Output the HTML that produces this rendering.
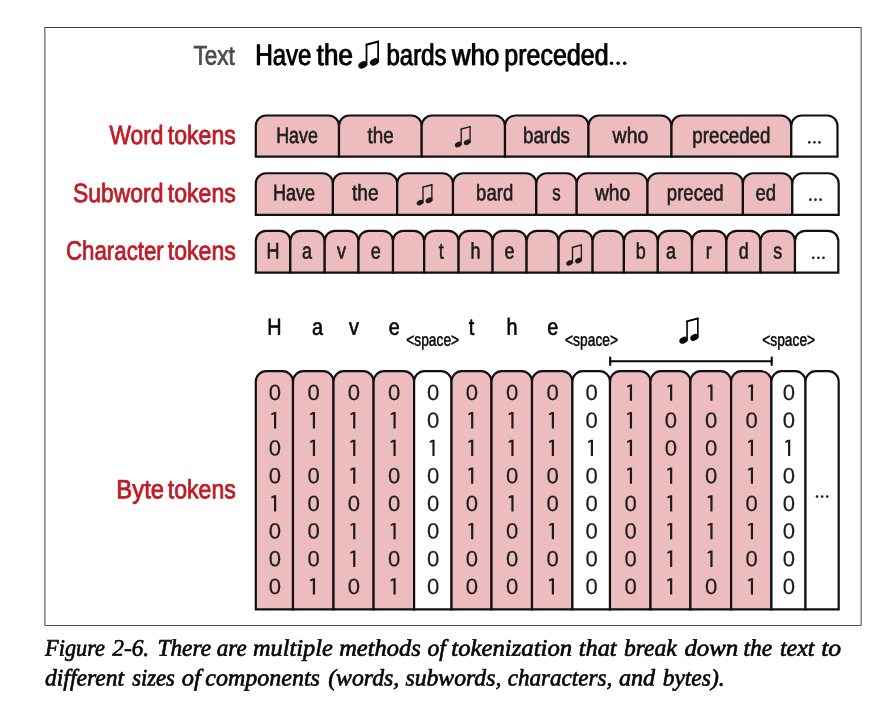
<!DOCTYPE html>
<html><head><meta charset="utf-8"><style>
html,body{margin:0;padding:0;background:#fff;width:886px;height:706px;overflow:hidden}
svg{display:block;will-change:transform;text-rendering:geometricPrecision}
text{white-space:pre}
</style></head><body>
<svg width="886" height="706" viewBox="0 0 886 706">

<rect width="886" height="706" fill="#fff"/>
<rect x="44" y="27" width="818" height="1" fill="#3e3e3e"/>
<rect x="44" y="625" width="818" height="1" fill="#505050"/>
<rect x="44" y="27" width="1" height="599" fill="#8a8a8a"/>
<rect x="45" y="28" width="1" height="597" fill="#b5b5b5"/>
<rect x="861" y="27" width="1" height="599" fill="#8a8a8a"/>
<rect x="860" y="28" width="1" height="597" fill="#b5b5b5"/>
<g fill="#050505"><polygon points="365.70,43.80 379.00,40.30 379.00,42.40 365.70,45.90"/><rect x="365.65" y="44.30" width="1.75" height="21.00"/><rect x="377.25" y="41.30" width="1.75" height="21.00"/><ellipse cx="362.70" cy="64.90" rx="4.70" ry="3.30" transform="rotate(-28 362.70 64.90)"/><ellipse cx="374.40" cy="61.90" rx="4.70" ry="3.30" transform="rotate(-28 374.40 61.90)"/></g>
<circle cx="611.55" cy="63.30" r="1.75" fill="#050505"/><circle cx="618.10" cy="63.30" r="1.75" fill="#050505"/><circle cx="624.65" cy="63.30" r="1.75" fill="#050505"/>
<path d="M255.80,156.65 L255.80,125.80 A10.30,10.30 0 0 1 266.10,115.50 L328.70,115.50 A10.30,10.30 0 0 1 339.00,125.80 L339.00,156.65 Z" fill="#ecbcbf" stroke="#111111" stroke-width="2.20"/>
<path d="M339.00,156.65 L339.00,125.80 A10.30,10.30 0 0 1 349.30,115.50 L411.40,115.50 A10.30,10.30 0 0 1 421.70,125.80 L421.70,156.65 Z" fill="#ecbcbf" stroke="#111111" stroke-width="2.20"/>
<path d="M421.70,156.65 L421.70,125.80 A10.30,10.30 0 0 1 432.00,115.50 L494.70,115.50 A10.30,10.30 0 0 1 505.00,125.80 L505.00,156.65 Z" fill="#ecbcbf" stroke="#111111" stroke-width="2.20"/>
<path d="M505.00,156.65 L505.00,125.80 A10.30,10.30 0 0 1 515.30,115.50 L578.20,115.50 A10.30,10.30 0 0 1 588.50,125.80 L588.50,156.65 Z" fill="#ecbcbf" stroke="#111111" stroke-width="2.20"/>
<path d="M588.50,156.65 L588.50,125.80 A10.30,10.30 0 0 1 598.80,115.50 L661.20,115.50 A10.30,10.30 0 0 1 671.50,125.80 L671.50,156.65 Z" fill="#ecbcbf" stroke="#111111" stroke-width="2.20"/>
<path d="M671.50,156.65 L671.50,125.80 A10.30,10.30 0 0 1 681.80,115.50 L781.00,115.50 A10.30,10.30 0 0 1 791.30,125.80 L791.30,156.65 Z" fill="#ecbcbf" stroke="#111111" stroke-width="2.20"/>
<path d="M791.30,156.65 L791.30,125.80 A10.30,10.30 0 0 1 801.60,115.50 L827.20,115.50 A10.30,10.30 0 0 1 837.50,125.80 L837.50,156.65 Z" fill="#ffffff" stroke="#111111" stroke-width="2.20"/>
<g fill="#1c1c1c"><polygon points="460.56,128.43 470.74,125.75 470.74,127.36 460.56,130.03"/><rect x="460.53" y="128.81" width="1.34" height="16.07"/><rect x="469.40" y="126.52" width="1.34" height="16.07"/><ellipse cx="458.27" cy="144.57" rx="3.60" ry="2.52" transform="rotate(-28 458.27 144.57)"/><ellipse cx="467.22" cy="142.27" rx="3.60" ry="2.52" transform="rotate(-28 467.22 142.27)"/></g>
<circle cx="809.30" cy="142.35" r="1.30" fill="#1c1c1c"/><circle cx="814.40" cy="142.35" r="1.30" fill="#1c1c1c"/><circle cx="819.50" cy="142.35" r="1.30" fill="#1c1c1c"/>
<path d="M255.80,214.80 L255.80,183.55 A10.30,10.30 0 0 1 266.10,173.25 L322.60,173.25 A10.30,10.30 0 0 1 332.90,183.55 L332.90,214.80 Z" fill="#ecbcbf" stroke="#111111" stroke-width="2.20"/>
<path d="M332.90,214.80 L332.90,183.55 A10.30,10.30 0 0 1 343.20,173.25 L386.90,173.25 A10.30,10.30 0 0 1 397.20,183.55 L397.20,214.80 Z" fill="#ecbcbf" stroke="#111111" stroke-width="2.20"/>
<path d="M397.20,214.80 L397.20,183.55 A10.30,10.30 0 0 1 407.50,173.25 L442.70,173.25 A10.30,10.30 0 0 1 453.00,183.55 L453.00,214.80 Z" fill="#ecbcbf" stroke="#111111" stroke-width="2.20"/>
<path d="M453.00,214.80 L453.00,183.55 A10.30,10.30 0 0 1 463.30,173.25 L526.00,173.25 A10.30,10.30 0 0 1 536.30,183.55 L536.30,214.80 Z" fill="#ecbcbf" stroke="#111111" stroke-width="2.20"/>
<path d="M536.30,214.80 L536.30,183.55 A10.30,10.30 0 0 1 546.60,173.25 L566.40,173.25 A10.30,10.30 0 0 1 576.70,183.55 L576.70,214.80 Z" fill="#ecbcbf" stroke="#111111" stroke-width="2.20"/>
<path d="M576.70,214.80 L576.70,183.55 A10.30,10.30 0 0 1 587.00,173.25 L637.20,173.25 A10.30,10.30 0 0 1 647.50,183.55 L647.50,214.80 Z" fill="#ecbcbf" stroke="#111111" stroke-width="2.20"/>
<path d="M647.50,214.80 L647.50,183.55 A10.30,10.30 0 0 1 657.80,173.25 L732.60,173.25 A10.30,10.30 0 0 1 742.90,183.55 L742.90,214.80 Z" fill="#ecbcbf" stroke="#111111" stroke-width="2.20"/>
<path d="M742.90,214.80 L742.90,183.55 A10.30,10.30 0 0 1 753.20,173.25 L782.00,173.25 A10.30,10.30 0 0 1 792.30,183.55 L792.30,214.80 Z" fill="#ecbcbf" stroke="#111111" stroke-width="2.20"/>
<path d="M792.30,214.80 L792.30,183.55 A10.30,10.30 0 0 1 802.60,173.25 L828.40,173.25 A10.30,10.30 0 0 1 838.70,183.55 L838.70,214.80 Z" fill="#ffffff" stroke="#111111" stroke-width="2.20"/>
<g fill="#1c1c1c"><polygon points="422.36,186.48 432.54,183.80 432.54,185.41 422.36,188.08"/><rect x="422.33" y="186.86" width="1.34" height="16.07"/><rect x="431.20" y="184.56" width="1.34" height="16.07"/><ellipse cx="420.07" cy="202.62" rx="3.60" ry="2.52" transform="rotate(-28 420.07 202.62)"/><ellipse cx="429.02" cy="200.32" rx="3.60" ry="2.52" transform="rotate(-28 429.02 200.32)"/></g>
<circle cx="810.40" cy="199.65" r="1.30" fill="#1c1c1c"/><circle cx="815.50" cy="199.65" r="1.30" fill="#1c1c1c"/><circle cx="820.60" cy="199.65" r="1.30" fill="#1c1c1c"/>
<path d="M255.80,272.60 L255.80,241.10 A10.30,10.30 0 0 1 266.10,230.80 L280.00,230.80 A10.30,10.30 0 0 1 290.30,241.10 L290.30,272.60 Z" fill="#ecbcbf" stroke="#111111" stroke-width="2.20"/>
<path d="M290.30,272.60 L290.30,241.10 A10.30,10.30 0 0 1 300.60,230.80 L314.40,230.80 A10.30,10.30 0 0 1 324.70,241.10 L324.70,272.60 Z" fill="#ecbcbf" stroke="#111111" stroke-width="2.20"/>
<path d="M324.70,272.60 L324.70,241.10 A10.30,10.30 0 0 1 335.00,230.80 L348.20,230.80 A10.30,10.30 0 0 1 358.50,241.10 L358.50,272.60 Z" fill="#ecbcbf" stroke="#111111" stroke-width="2.20"/>
<path d="M358.50,272.60 L358.50,241.10 A10.30,10.30 0 0 1 368.80,230.80 L382.70,230.80 A10.30,10.30 0 0 1 393.00,241.10 L393.00,272.60 Z" fill="#ecbcbf" stroke="#111111" stroke-width="2.20"/>
<path d="M393.00,272.60 L393.00,241.10 A10.30,10.30 0 0 1 403.30,230.80 L413.90,230.80 A10.30,10.30 0 0 1 424.20,241.10 L424.20,272.60 Z" fill="#ecbcbf" stroke="#111111" stroke-width="2.20"/>
<path d="M424.20,272.60 L424.20,241.10 A10.30,10.30 0 0 1 434.50,230.80 L448.30,230.80 A10.30,10.30 0 0 1 458.60,241.10 L458.60,272.60 Z" fill="#ecbcbf" stroke="#111111" stroke-width="2.20"/>
<path d="M458.60,272.60 L458.60,241.10 A10.30,10.30 0 0 1 468.90,230.80 L482.30,230.80 A10.30,10.30 0 0 1 492.60,241.10 L492.60,272.60 Z" fill="#ecbcbf" stroke="#111111" stroke-width="2.20"/>
<path d="M492.60,272.60 L492.60,241.10 A10.30,10.30 0 0 1 502.90,230.80 L516.30,230.80 A10.30,10.30 0 0 1 526.60,241.10 L526.60,272.60 Z" fill="#ecbcbf" stroke="#111111" stroke-width="2.20"/>
<path d="M526.60,272.60 L526.60,241.10 A10.30,10.30 0 0 1 536.90,230.80 L548.30,230.80 A10.30,10.30 0 0 1 558.60,241.10 L558.60,272.60 Z" fill="#ecbcbf" stroke="#111111" stroke-width="2.20"/>
<path d="M558.60,272.60 L558.60,241.10 A10.30,10.30 0 0 1 568.90,230.80 L582.30,230.80 A10.30,10.30 0 0 1 592.60,241.10 L592.60,272.60 Z" fill="#ecbcbf" stroke="#111111" stroke-width="2.20"/>
<path d="M592.60,272.60 L592.60,241.10 A10.30,10.30 0 0 1 602.90,230.80 L613.60,230.80 A10.30,10.30 0 0 1 623.90,241.10 L623.90,272.60 Z" fill="#ecbcbf" stroke="#111111" stroke-width="2.20"/>
<path d="M623.90,272.60 L623.90,241.10 A10.30,10.30 0 0 1 634.20,230.80 L647.50,230.80 A10.30,10.30 0 0 1 657.80,241.10 L657.80,272.60 Z" fill="#ecbcbf" stroke="#111111" stroke-width="2.20"/>
<path d="M657.80,272.60 L657.80,241.10 A10.30,10.30 0 0 1 668.10,230.80 L681.70,230.80 A10.30,10.30 0 0 1 692.00,241.10 L692.00,272.60 Z" fill="#ecbcbf" stroke="#111111" stroke-width="2.20"/>
<path d="M692.00,272.60 L692.00,241.10 A10.30,10.30 0 0 1 702.30,230.80 L716.10,230.80 A10.30,10.30 0 0 1 726.40,241.10 L726.40,272.60 Z" fill="#ecbcbf" stroke="#111111" stroke-width="2.20"/>
<path d="M726.40,272.60 L726.40,241.10 A10.30,10.30 0 0 1 736.70,230.80 L750.20,230.80 A10.30,10.30 0 0 1 760.50,241.10 L760.50,272.60 Z" fill="#ecbcbf" stroke="#111111" stroke-width="2.20"/>
<path d="M760.50,272.60 L760.50,241.10 A10.30,10.30 0 0 1 770.80,230.80 L784.70,230.80 A10.30,10.30 0 0 1 795.00,241.10 L795.00,272.60 Z" fill="#ecbcbf" stroke="#111111" stroke-width="2.20"/>
<path d="M795.00,272.60 L795.00,241.10 A10.30,10.30 0 0 1 805.30,230.80 L828.00,230.80 A10.30,10.30 0 0 1 838.30,241.10 L838.30,272.60 Z" fill="#ffffff" stroke="#111111" stroke-width="2.20"/>
<g fill="#1c1c1c"><polygon points="571.86,246.73 582.04,244.05 582.04,245.66 571.86,248.33"/><rect x="571.83" y="247.11" width="1.34" height="16.07"/><rect x="580.70" y="244.81" width="1.34" height="16.07"/><ellipse cx="569.57" cy="262.87" rx="3.60" ry="2.52" transform="rotate(-28 569.57 262.87)"/><ellipse cx="578.52" cy="260.57" rx="3.60" ry="2.52" transform="rotate(-28 578.52 260.57)"/></g>
<circle cx="813.30" cy="257.85" r="1.30" fill="#1c1c1c"/><circle cx="818.40" cy="257.85" r="1.30" fill="#1c1c1c"/><circle cx="823.50" cy="257.85" r="1.30" fill="#1c1c1c"/>
<g fill="#050505"><polygon points="686.27,320.56 698.64,317.30 698.64,319.25 686.27,322.51"/><rect x="686.22" y="321.02" width="1.63" height="19.53"/><rect x="697.01" y="318.23" width="1.63" height="19.53"/><ellipse cx="683.48" cy="340.18" rx="4.37" ry="3.07" transform="rotate(-28 683.48 340.18)"/><ellipse cx="694.36" cy="337.39" rx="4.37" ry="3.07" transform="rotate(-28 694.36 337.39)"/></g>
<g stroke="#050505" stroke-width="2.1" stroke-linecap="round"><line x1="610.2" y1="361.3" x2="771.7" y2="361.3"/><line x1="610.2" y1="357.5" x2="610.2" y2="365"/><line x1="771.7" y1="357.5" x2="771.7" y2="365"/></g>
<path d="M255.80,609.35 L255.80,381.50 A10.30,10.30 0 0 1 266.10,371.20 L282.70,371.20 A10.30,10.30 0 0 1 293.00,381.50 L293.00,609.35 Z" fill="#ecbcbf" stroke="#111111" stroke-width="2.20"/>
<path d="M293.00,609.35 L293.00,381.50 A10.30,10.30 0 0 1 303.30,371.20 L323.20,371.20 A10.30,10.30 0 0 1 333.50,381.50 L333.50,609.35 Z" fill="#ecbcbf" stroke="#111111" stroke-width="2.20"/>
<path d="M333.50,609.35 L333.50,381.50 A10.30,10.30 0 0 1 343.80,371.20 L363.30,371.20 A10.30,10.30 0 0 1 373.60,381.50 L373.60,609.35 Z" fill="#ecbcbf" stroke="#111111" stroke-width="2.20"/>
<path d="M373.60,609.35 L373.60,381.50 A10.30,10.30 0 0 1 383.90,371.20 L403.80,371.20 A10.30,10.30 0 0 1 414.10,381.50 L414.10,609.35 Z" fill="#ecbcbf" stroke="#111111" stroke-width="2.20"/>
<path d="M414.10,609.35 L414.10,381.50 A10.30,10.30 0 0 1 424.40,371.20 L441.20,371.20 A10.30,10.30 0 0 1 451.50,381.50 L451.50,609.35 Z" fill="#ffffff" stroke="#111111" stroke-width="2.20"/>
<path d="M451.50,609.35 L451.50,381.50 A10.30,10.30 0 0 1 461.80,371.20 L481.20,371.20 A10.30,10.30 0 0 1 491.50,381.50 L491.50,609.35 Z" fill="#ecbcbf" stroke="#111111" stroke-width="2.20"/>
<path d="M491.50,609.35 L491.50,381.50 A10.30,10.30 0 0 1 501.80,371.20 L521.70,371.20 A10.30,10.30 0 0 1 532.00,381.50 L532.00,609.35 Z" fill="#ecbcbf" stroke="#111111" stroke-width="2.20"/>
<path d="M532.00,609.35 L532.00,381.50 A10.30,10.30 0 0 1 542.30,371.20 L562.10,371.20 A10.30,10.30 0 0 1 572.40,381.50 L572.40,609.35 Z" fill="#ecbcbf" stroke="#111111" stroke-width="2.20"/>
<path d="M572.40,609.35 L572.40,381.50 A10.30,10.30 0 0 1 582.70,371.20 L599.70,371.20 A10.30,10.30 0 0 1 610.00,381.50 L610.00,609.35 Z" fill="#ffffff" stroke="#111111" stroke-width="2.20"/>
<path d="M610.00,609.35 L610.00,381.50 A10.30,10.30 0 0 1 620.30,371.20 L640.20,371.20 A10.30,10.30 0 0 1 650.50,381.50 L650.50,609.35 Z" fill="#ecbcbf" stroke="#111111" stroke-width="2.20"/>
<path d="M650.50,609.35 L650.50,381.50 A10.30,10.30 0 0 1 660.80,371.20 L680.10,371.20 A10.30,10.30 0 0 1 690.40,381.50 L690.40,609.35 Z" fill="#ecbcbf" stroke="#111111" stroke-width="2.20"/>
<path d="M690.40,609.35 L690.40,381.50 A10.30,10.30 0 0 1 700.70,371.20 L720.80,371.20 A10.30,10.30 0 0 1 731.10,381.50 L731.10,609.35 Z" fill="#ecbcbf" stroke="#111111" stroke-width="2.20"/>
<path d="M731.10,609.35 L731.10,381.50 A10.30,10.30 0 0 1 741.40,371.20 L761.10,371.20 A10.30,10.30 0 0 1 771.40,381.50 L771.40,609.35 Z" fill="#ecbcbf" stroke="#111111" stroke-width="2.20"/>
<path d="M771.40,609.35 L771.40,381.50 A10.30,10.30 0 0 1 781.70,371.20 L795.20,371.20 A10.30,10.30 0 0 1 805.50,381.50 L805.50,609.35 Z" fill="#ffffff" stroke="#111111" stroke-width="2.20"/>
<path d="M805.50,609.35 L805.50,381.50 A10.30,10.30 0 0 1 815.80,371.20 L828.40,371.20 A10.30,10.30 0 0 1 838.70,381.50 L838.70,609.35 Z" fill="#ffffff" stroke="#111111" stroke-width="2.20"/>
<polygon points="276.20,412.10 274.10,412.10 271.30,413.40 271.30,415.30 274.00,414.30 274.00,428.40 276.20,428.40" fill="#1c1c1c"/>
<polygon points="276.20,495.20 274.10,495.20 271.30,496.50 271.30,498.40 274.00,497.40 274.00,511.50 276.20,511.50" fill="#1c1c1c"/>
<polygon points="315.05,412.10 312.95,412.10 310.15,413.40 310.15,415.30 312.85,414.30 312.85,428.40 315.05,428.40" fill="#1c1c1c"/>
<polygon points="315.05,439.80 312.95,439.80 310.15,441.10 310.15,443.00 312.85,442.00 312.85,456.10 315.05,456.10" fill="#1c1c1c"/>
<polygon points="315.05,578.30 312.95,578.30 310.15,579.60 310.15,581.50 312.85,580.50 312.85,594.60 315.05,594.60" fill="#1c1c1c"/>
<polygon points="355.35,412.10 353.25,412.10 350.45,413.40 350.45,415.30 353.15,414.30 353.15,428.40 355.35,428.40" fill="#1c1c1c"/>
<polygon points="355.35,439.80 353.25,439.80 350.45,441.10 350.45,443.00 353.15,442.00 353.15,456.10 355.35,456.10" fill="#1c1c1c"/>
<polygon points="355.35,467.50 353.25,467.50 350.45,468.80 350.45,470.70 353.15,469.70 353.15,483.80 355.35,483.80" fill="#1c1c1c"/>
<polygon points="355.35,522.90 353.25,522.90 350.45,524.20 350.45,526.10 353.15,525.10 353.15,539.20 355.35,539.20" fill="#1c1c1c"/>
<polygon points="355.35,550.60 353.25,550.60 350.45,551.90 350.45,553.80 353.15,552.80 353.15,566.90 355.35,566.90" fill="#1c1c1c"/>
<polygon points="395.65,412.10 393.55,412.10 390.75,413.40 390.75,415.30 393.45,414.30 393.45,428.40 395.65,428.40" fill="#1c1c1c"/>
<polygon points="395.65,439.80 393.55,439.80 390.75,441.10 390.75,443.00 393.45,442.00 393.45,456.10 395.65,456.10" fill="#1c1c1c"/>
<polygon points="395.65,522.90 393.55,522.90 390.75,524.20 390.75,526.10 393.45,525.10 393.45,539.20 395.65,539.20" fill="#1c1c1c"/>
<polygon points="395.65,578.30 393.55,578.30 390.75,579.60 390.75,581.50 393.45,580.50 393.45,594.60 395.65,594.60" fill="#1c1c1c"/>
<polygon points="434.60,439.80 432.50,439.80 429.70,441.10 429.70,443.00 432.40,442.00 432.40,456.10 434.60,456.10" fill="#1c1c1c"/>
<polygon points="473.30,412.10 471.20,412.10 468.40,413.40 468.40,415.30 471.10,414.30 471.10,428.40 473.30,428.40" fill="#1c1c1c"/>
<polygon points="473.30,439.80 471.20,439.80 468.40,441.10 468.40,443.00 471.10,442.00 471.10,456.10 473.30,456.10" fill="#1c1c1c"/>
<polygon points="473.30,467.50 471.20,467.50 468.40,468.80 468.40,470.70 471.10,469.70 471.10,483.80 473.30,483.80" fill="#1c1c1c"/>
<polygon points="473.30,522.90 471.20,522.90 468.40,524.20 468.40,526.10 471.10,525.10 471.10,539.20 473.30,539.20" fill="#1c1c1c"/>
<polygon points="513.55,412.10 511.45,412.10 508.65,413.40 508.65,415.30 511.35,414.30 511.35,428.40 513.55,428.40" fill="#1c1c1c"/>
<polygon points="513.55,439.80 511.45,439.80 508.65,441.10 508.65,443.00 511.35,442.00 511.35,456.10 513.55,456.10" fill="#1c1c1c"/>
<polygon points="513.55,495.20 511.45,495.20 508.65,496.50 508.65,498.40 511.35,497.40 511.35,511.50 513.55,511.50" fill="#1c1c1c"/>
<polygon points="554.00,412.10 551.90,412.10 549.10,413.40 549.10,415.30 551.80,414.30 551.80,428.40 554.00,428.40" fill="#1c1c1c"/>
<polygon points="554.00,439.80 551.90,439.80 549.10,441.10 549.10,443.00 551.80,442.00 551.80,456.10 554.00,456.10" fill="#1c1c1c"/>
<polygon points="554.00,522.90 551.90,522.90 549.10,524.20 549.10,526.10 551.80,525.10 551.80,539.20 554.00,539.20" fill="#1c1c1c"/>
<polygon points="554.00,578.30 551.90,578.30 549.10,579.60 549.10,581.50 551.80,580.50 551.80,594.60 554.00,594.60" fill="#1c1c1c"/>
<polygon points="593.00,439.80 590.90,439.80 588.10,441.10 588.10,443.00 590.80,442.00 590.80,456.10 593.00,456.10" fill="#1c1c1c"/>
<polygon points="632.05,384.40 629.95,384.40 627.15,385.70 627.15,387.60 629.85,386.60 629.85,400.70 632.05,400.70" fill="#1c1c1c"/>
<polygon points="632.05,412.10 629.95,412.10 627.15,413.40 627.15,415.30 629.85,414.30 629.85,428.40 632.05,428.40" fill="#1c1c1c"/>
<polygon points="632.05,439.80 629.95,439.80 627.15,441.10 627.15,443.00 629.85,442.00 629.85,456.10 632.05,456.10" fill="#1c1c1c"/>
<polygon points="632.05,467.50 629.95,467.50 627.15,468.80 627.15,470.70 629.85,469.70 629.85,483.80 632.05,483.80" fill="#1c1c1c"/>
<polygon points="672.25,384.40 670.15,384.40 667.35,385.70 667.35,387.60 670.05,386.60 670.05,400.70 672.25,400.70" fill="#1c1c1c"/>
<polygon points="672.25,467.50 670.15,467.50 667.35,468.80 667.35,470.70 670.05,469.70 670.05,483.80 672.25,483.80" fill="#1c1c1c"/>
<polygon points="672.25,495.20 670.15,495.20 667.35,496.50 667.35,498.40 670.05,497.40 670.05,511.50 672.25,511.50" fill="#1c1c1c"/>
<polygon points="672.25,522.90 670.15,522.90 667.35,524.20 667.35,526.10 670.05,525.10 670.05,539.20 672.25,539.20" fill="#1c1c1c"/>
<polygon points="672.25,550.60 670.15,550.60 667.35,551.90 667.35,553.80 670.05,552.80 670.05,566.90 672.25,566.90" fill="#1c1c1c"/>
<polygon points="672.25,578.30 670.15,578.30 667.35,579.60 667.35,581.50 670.05,580.50 670.05,594.60 672.25,594.60" fill="#1c1c1c"/>
<polygon points="712.55,384.40 710.45,384.40 707.65,385.70 707.65,387.60 710.35,386.60 710.35,400.70 712.55,400.70" fill="#1c1c1c"/>
<polygon points="712.55,495.20 710.45,495.20 707.65,496.50 707.65,498.40 710.35,497.40 710.35,511.50 712.55,511.50" fill="#1c1c1c"/>
<polygon points="712.55,522.90 710.45,522.90 707.65,524.20 707.65,526.10 710.35,525.10 710.35,539.20 712.55,539.20" fill="#1c1c1c"/>
<polygon points="712.55,550.60 710.45,550.60 707.65,551.90 707.65,553.80 710.35,552.80 710.35,566.90 712.55,566.90" fill="#1c1c1c"/>
<polygon points="753.05,384.40 750.95,384.40 748.15,385.70 748.15,387.60 750.85,386.60 750.85,400.70 753.05,400.70" fill="#1c1c1c"/>
<polygon points="753.05,439.80 750.95,439.80 748.15,441.10 748.15,443.00 750.85,442.00 750.85,456.10 753.05,456.10" fill="#1c1c1c"/>
<polygon points="753.05,467.50 750.95,467.50 748.15,468.80 748.15,470.70 750.85,469.70 750.85,483.80 753.05,483.80" fill="#1c1c1c"/>
<polygon points="753.05,522.90 750.95,522.90 748.15,524.20 748.15,526.10 750.85,525.10 750.85,539.20 753.05,539.20" fill="#1c1c1c"/>
<polygon points="753.05,578.30 750.95,578.30 748.15,579.60 748.15,581.50 750.85,580.50 750.85,594.60 753.05,594.60" fill="#1c1c1c"/>
<polygon points="790.25,439.80 788.15,439.80 785.35,441.10 785.35,443.00 788.05,442.00 788.05,456.10 790.25,456.10" fill="#1c1c1c"/>
<circle cx="817.00" cy="496.60" r="1.30" fill="#1c1c1c"/><circle cx="822.10" cy="496.60" r="1.30" fill="#1c1c1c"/><circle cx="827.20" cy="496.60" r="1.30" fill="#1c1c1c"/>
<text transform="translate(193.53 64.60) skewY(0.05) scale(0.8382 1)" x="0 13.4 28.3 41.7" y="0" font-family="Liberation Sans" font-size="26.80" fill="#4d4d4d" stroke="#4d4d4d" stroke-width="0.80" stroke-linejoin="round">Text</text>
<text id="t1" transform="translate(255.05 64.90) skewY(0.05) scale(0.8037 1)" x="0 21.59 38.22 53.17" y="0" font-family="Liberation Sans" font-size="29.90" fill="#050505" stroke="#050505" stroke-width="0.30" stroke-linejoin="round">Have</text><use href="#t1" x="0.60"/>
<text id="t2" transform="translate(316.34 64.90) skewY(0.05) scale(0.8707 1)" x="0 8.31 24.94" y="0" font-family="Liberation Sans" font-size="29.90" fill="#050505" stroke="#050505" stroke-width="0.30" stroke-linejoin="round">the</text><use href="#t2" x="0.60"/>
<text id="t3" transform="translate(386.18 64.90) skewY(0.05) scale(0.8018 1)" x="0 16.63 33.26 43.21 59.84" y="0" font-family="Liberation Sans" font-size="29.90" fill="#050505" stroke="#050505" stroke-width="0.30" stroke-linejoin="round">bards</text><use href="#t3" x="0.60"/>
<text id="t4" transform="translate(451.57 64.90) skewY(0.05) scale(0.8676 1)" x="0 21.59 38.22" y="0" font-family="Liberation Sans" font-size="29.90" fill="#050505" stroke="#050505" stroke-width="0.30" stroke-linejoin="round">who</text><use href="#t4" x="0.60"/>
<text id="t5" transform="translate(504.01 64.90) skewY(0.05) scale(0.8363 1)" x="0 16.63 26.59 43.21 58.16 74.79 91.42 108.05" y="0" font-family="Liberation Sans" font-size="29.90" fill="#050505" stroke="#050505" stroke-width="0.30" stroke-linejoin="round">preceded</text><use href="#t5" x="0.60"/>
<text transform="translate(109.44 144.00) skewY(0.05) scale(0.8607 1)" x="0 24.49 39.2 48.01" y="0" font-family="Liberation Sans" font-size="26.45" fill="#c01b27" stroke="#c01b27" stroke-width="0.80" stroke-linejoin="round">Word</text>
<text transform="translate(167.80 144.00) skewY(0.05) scale(0.8737 1)" x="0 7.35 22.06 35.28 49.99 64.7" y="0" font-family="Liberation Sans" font-size="26.45" fill="#c01b27" stroke="#c01b27" stroke-width="0.80" stroke-linejoin="round">tokens</text>
<text transform="translate(73.11 201.90) skewY(0.05) scale(0.8652 1)" x="0 17.64 32.35 47.06 66.16 80.87 89.68" y="0" font-family="Liberation Sans" font-size="26.45" fill="#c01b27" stroke="#c01b27" stroke-width="0.80" stroke-linejoin="round">Subword</text>
<text transform="translate(167.80 201.90) skewY(0.05) scale(0.8737 1)" x="0 7.35 22.06 35.28 49.99 64.7" y="0" font-family="Liberation Sans" font-size="26.45" fill="#c01b27" stroke="#c01b27" stroke-width="0.80" stroke-linejoin="round">tokens</text>
<text transform="translate(66.06 259.60) skewY(0.05) scale(0.8411 1)" x="0 19.1 33.81 48.52 57.33 72.04 85.27 92.61 107.32" y="0" font-family="Liberation Sans" font-size="26.45" fill="#c01b27" stroke="#c01b27" stroke-width="0.80" stroke-linejoin="round">Character</text>
<text transform="translate(167.80 259.60) skewY(0.05) scale(0.8737 1)" x="0 7.35 22.06 35.28 49.99 64.7" y="0" font-family="Liberation Sans" font-size="26.45" fill="#c01b27" stroke="#c01b27" stroke-width="0.80" stroke-linejoin="round">tokens</text>
<text transform="translate(116.20 498.30) skewY(0.05) scale(0.9051 1)" x="0 17.64 30.87 38.22" y="0" font-family="Liberation Sans" font-size="26.45" fill="#c01b27" stroke="#c01b27" stroke-width="0.80" stroke-linejoin="round">Byte</text>
<text transform="translate(167.80 498.30) skewY(0.05) scale(0.8737 1)" x="0 7.35 22.06 35.28 49.99 64.7" y="0" font-family="Liberation Sans" font-size="26.45" fill="#c01b27" stroke="#c01b27" stroke-width="0.80" stroke-linejoin="round">tokens</text>
<text transform="translate(276.17 143.05) skewY(0.05) scale(0.7955 1)" x="0 16.25 28.76 40.01" y="0" font-family="Liberation Sans" font-size="22.50" fill="#1c1c1c" stroke="#1c1c1c" stroke-width="0.60" stroke-linejoin="round">Have</text>
<text transform="translate(367.52 143.05) skewY(0.05) scale(0.8383 1)" x="0 6.25 18.76" y="0" font-family="Liberation Sans" font-size="22.50" fill="#1c1c1c" stroke="#1c1c1c" stroke-width="0.60" stroke-linejoin="round">the</text>
<text transform="translate(522.94 143.05) skewY(0.05) scale(0.8367 1)" x="0 12.51 25.03 32.52 45.03" y="0" font-family="Liberation Sans" font-size="22.50" fill="#1c1c1c" stroke="#1c1c1c" stroke-width="0.60" stroke-linejoin="round">bards</text>
<text transform="translate(612.59 143.05) skewY(0.05) scale(0.8642 1)" x="0 16.25 28.76" y="0" font-family="Liberation Sans" font-size="22.50" fill="#1c1c1c" stroke="#1c1c1c" stroke-width="0.60" stroke-linejoin="round">who</text>
<text transform="translate(692.34 143.05) skewY(0.05) scale(0.8326 1)" x="0 12.51 20.01 32.52 43.77 56.28 68.8 81.31" y="0" font-family="Liberation Sans" font-size="22.50" fill="#1c1c1c" stroke="#1c1c1c" stroke-width="0.60" stroke-linejoin="round">preceded</text>
<text transform="translate(272.96 200.35) skewY(0.05) scale(0.8015 1)" x="0 16.25 28.76 40.01" y="0" font-family="Liberation Sans" font-size="22.50" fill="#1c1c1c" stroke="#1c1c1c" stroke-width="0.60" stroke-linejoin="round">Have</text>
<text transform="translate(352.02 200.35) skewY(0.05) scale(0.8514 1)" x="0 6.25 18.76" y="0" font-family="Liberation Sans" font-size="22.50" fill="#1c1c1c" stroke="#1c1c1c" stroke-width="0.60" stroke-linejoin="round">the</text>
<text transform="translate(476.10 200.35) skewY(0.05) scale(0.8237 1)" x="0 12.51 25.03 32.52" y="0" font-family="Liberation Sans" font-size="22.50" fill="#1c1c1c" stroke="#1c1c1c" stroke-width="0.60" stroke-linejoin="round">bard</text>
<text transform="translate(552.36 200.35) skewY(0.05) scale(0.7492 1)" x="0" y="0" font-family="Liberation Sans" font-size="22.50" fill="#1c1c1c" stroke="#1c1c1c" stroke-width="0.60" stroke-linejoin="round">s</text>
<text transform="translate(594.88 200.35) skewY(0.05) scale(0.8544 1)" x="0 16.25 28.76" y="0" font-family="Liberation Sans" font-size="22.50" fill="#1c1c1c" stroke="#1c1c1c" stroke-width="0.60" stroke-linejoin="round">who</text>
<text transform="translate(666.85 200.35) skewY(0.05) scale(0.8241 1)" x="0 12.51 20.01 32.52 43.77 56.28" y="0" font-family="Liberation Sans" font-size="22.50" fill="#1c1c1c" stroke="#1c1c1c" stroke-width="0.60" stroke-linejoin="round">preced</text>
<text transform="translate(755.51 200.35) skewY(0.05) scale(0.8225 1)" x="0 12.51" y="0" font-family="Liberation Sans" font-size="22.50" fill="#1c1c1c" stroke="#1c1c1c" stroke-width="0.60" stroke-linejoin="round">ed</text>
<text transform="translate(266.55 258.55) skewY(0.05) scale(0.8000 1)" x="0" y="0" font-family="Liberation Sans" font-size="22.50" fill="#1c1c1c" stroke="#1c1c1c" stroke-width="0.60" stroke-linejoin="round">H</text>
<text transform="translate(302.11 258.55) skewY(0.05) scale(0.8000 1)" x="0" y="0" font-family="Liberation Sans" font-size="22.50" fill="#1c1c1c" stroke="#1c1c1c" stroke-width="0.60" stroke-linejoin="round">a</text>
<text transform="translate(337.10 258.55) skewY(0.05) scale(0.8000 1)" x="0" y="0" font-family="Liberation Sans" font-size="22.50" fill="#1c1c1c" stroke="#1c1c1c" stroke-width="0.60" stroke-linejoin="round">v</text>
<text transform="translate(370.76 258.55) skewY(0.05) scale(0.8000 1)" x="0" y="0" font-family="Liberation Sans" font-size="22.50" fill="#1c1c1c" stroke="#1c1c1c" stroke-width="0.60" stroke-linejoin="round">e</text>
<text transform="translate(438.83 258.55) skewY(0.05) scale(0.8000 1)" x="0" y="0" font-family="Liberation Sans" font-size="22.50" fill="#1c1c1c" stroke="#1c1c1c" stroke-width="0.60" stroke-linejoin="round">t</text>
<text transform="translate(470.56 258.55) skewY(0.05) scale(0.8000 1)" x="0" y="0" font-family="Liberation Sans" font-size="22.50" fill="#1c1c1c" stroke="#1c1c1c" stroke-width="0.60" stroke-linejoin="round">h</text>
<text transform="translate(504.61 258.55) skewY(0.05) scale(0.8000 1)" x="0" y="0" font-family="Liberation Sans" font-size="22.50" fill="#1c1c1c" stroke="#1c1c1c" stroke-width="0.60" stroke-linejoin="round">e</text>
<text transform="translate(635.64 258.55) skewY(0.05) scale(0.8000 1)" x="0" y="0" font-family="Liberation Sans" font-size="22.50" fill="#1c1c1c" stroke="#1c1c1c" stroke-width="0.60" stroke-linejoin="round">b</text>
<text transform="translate(666.11 258.55) skewY(0.05) scale(0.8000 1)" x="0" y="0" font-family="Liberation Sans" font-size="22.50" fill="#1c1c1c" stroke="#1c1c1c" stroke-width="0.60" stroke-linejoin="round">a</text>
<text transform="translate(705.75 258.55) skewY(0.05) scale(0.8000 1)" x="0" y="0" font-family="Liberation Sans" font-size="22.50" fill="#1c1c1c" stroke="#1c1c1c" stroke-width="0.60" stroke-linejoin="round">r</text>
<text transform="translate(738.65 258.55) skewY(0.05) scale(0.8000 1)" x="0" y="0" font-family="Liberation Sans" font-size="22.50" fill="#1c1c1c" stroke="#1c1c1c" stroke-width="0.60" stroke-linejoin="round">d</text>
<text transform="translate(773.32 258.55) skewY(0.05) scale(0.8000 1)" x="0" y="0" font-family="Liberation Sans" font-size="22.50" fill="#1c1c1c" stroke="#1c1c1c" stroke-width="0.60" stroke-linejoin="round">s</text>
<text transform="translate(267.24 334.70) skewY(0.05) scale(0.8500 1)" x="0" y="0" font-family="Liberation Sans" font-size="23.30" fill="#050505" stroke="#050505" stroke-width="0.65" stroke-linejoin="round">H</text>
<text transform="translate(311.97 334.70) skewY(0.05) scale(0.8500 1)" x="0" y="0" font-family="Liberation Sans" font-size="23.30" fill="#050505" stroke="#050505" stroke-width="0.65" stroke-linejoin="round">a</text>
<text transform="translate(349.10 334.70) skewY(0.05) scale(0.8500 1)" x="0" y="0" font-family="Liberation Sans" font-size="23.30" fill="#050505" stroke="#050505" stroke-width="0.65" stroke-linejoin="round">v</text>
<text transform="translate(388.76 334.70) skewY(0.05) scale(0.8500 1)" x="0" y="0" font-family="Liberation Sans" font-size="23.30" fill="#050505" stroke="#050505" stroke-width="0.65" stroke-linejoin="round">e</text>
<text transform="translate(468.82 334.70) skewY(0.05) scale(0.8500 1)" x="0" y="0" font-family="Liberation Sans" font-size="23.30" fill="#050505" stroke="#050505" stroke-width="0.65" stroke-linejoin="round">t</text>
<text transform="translate(506.55 334.70) skewY(0.05) scale(0.8500 1)" x="0" y="0" font-family="Liberation Sans" font-size="23.30" fill="#050505" stroke="#050505" stroke-width="0.65" stroke-linejoin="round">h</text>
<text transform="translate(547.21 334.70) skewY(0.05) scale(0.8500 1)" x="0" y="0" font-family="Liberation Sans" font-size="23.30" fill="#050505" stroke="#050505" stroke-width="0.65" stroke-linejoin="round">e</text>
<text transform="translate(406.22 345.65) skewY(0.05) scale(0.7844 1)" x="0 10.28 19.08 28.87 38.65 47.45 57.24" y="0" font-family="Liberation Sans" font-size="17.60" fill="#050505" stroke="#050505" stroke-width="0.50" stroke-linejoin="round">&lt;space&gt;</text>
<text transform="translate(565.07 345.65) skewY(0.05) scale(0.7844 1)" x="0 10.28 19.08 28.87 38.65 47.45 57.24" y="0" font-family="Liberation Sans" font-size="17.60" fill="#050505" stroke="#050505" stroke-width="0.50" stroke-linejoin="round">&lt;space&gt;</text>
<text transform="translate(762.17 345.65) skewY(0.05) scale(0.7844 1)" x="0 10.28 19.08 28.87 38.65 47.45 57.24" y="0" font-family="Liberation Sans" font-size="17.60" fill="#050505" stroke="#050505" stroke-width="0.50" stroke-linejoin="round">&lt;space&gt;</text>
<text transform="translate(268.65 400.10) skewY(0.05) scale(1.0100 1)" x="0" y="0" font-family="Liberation Sans" font-size="21.90" fill="#1c1c1c" stroke="#1c1c1c" stroke-width="0.20" stroke-linejoin="round">0</text>
<text transform="translate(268.65 455.50) skewY(0.05) scale(1.0100 1)" x="0" y="0" font-family="Liberation Sans" font-size="21.90" fill="#1c1c1c" stroke="#1c1c1c" stroke-width="0.20" stroke-linejoin="round">0</text>
<text transform="translate(268.65 483.20) skewY(0.05) scale(1.0100 1)" x="0" y="0" font-family="Liberation Sans" font-size="21.90" fill="#1c1c1c" stroke="#1c1c1c" stroke-width="0.20" stroke-linejoin="round">0</text>
<text transform="translate(268.65 538.60) skewY(0.05) scale(1.0100 1)" x="0" y="0" font-family="Liberation Sans" font-size="21.90" fill="#1c1c1c" stroke="#1c1c1c" stroke-width="0.20" stroke-linejoin="round">0</text>
<text transform="translate(268.65 566.30) skewY(0.05) scale(1.0100 1)" x="0" y="0" font-family="Liberation Sans" font-size="21.90" fill="#1c1c1c" stroke="#1c1c1c" stroke-width="0.20" stroke-linejoin="round">0</text>
<text transform="translate(268.65 594.00) skewY(0.05) scale(1.0100 1)" x="0" y="0" font-family="Liberation Sans" font-size="21.90" fill="#1c1c1c" stroke="#1c1c1c" stroke-width="0.20" stroke-linejoin="round">0</text>
<text transform="translate(307.50 400.10) skewY(0.05) scale(1.0100 1)" x="0" y="0" font-family="Liberation Sans" font-size="21.90" fill="#1c1c1c" stroke="#1c1c1c" stroke-width="0.20" stroke-linejoin="round">0</text>
<text transform="translate(307.50 483.20) skewY(0.05) scale(1.0100 1)" x="0" y="0" font-family="Liberation Sans" font-size="21.90" fill="#1c1c1c" stroke="#1c1c1c" stroke-width="0.20" stroke-linejoin="round">0</text>
<text transform="translate(307.50 510.90) skewY(0.05) scale(1.0100 1)" x="0" y="0" font-family="Liberation Sans" font-size="21.90" fill="#1c1c1c" stroke="#1c1c1c" stroke-width="0.20" stroke-linejoin="round">0</text>
<text transform="translate(307.50 538.60) skewY(0.05) scale(1.0100 1)" x="0" y="0" font-family="Liberation Sans" font-size="21.90" fill="#1c1c1c" stroke="#1c1c1c" stroke-width="0.20" stroke-linejoin="round">0</text>
<text transform="translate(307.50 566.30) skewY(0.05) scale(1.0100 1)" x="0" y="0" font-family="Liberation Sans" font-size="21.90" fill="#1c1c1c" stroke="#1c1c1c" stroke-width="0.20" stroke-linejoin="round">0</text>
<text transform="translate(347.80 400.10) skewY(0.05) scale(1.0100 1)" x="0" y="0" font-family="Liberation Sans" font-size="21.90" fill="#1c1c1c" stroke="#1c1c1c" stroke-width="0.20" stroke-linejoin="round">0</text>
<text transform="translate(347.80 510.90) skewY(0.05) scale(1.0100 1)" x="0" y="0" font-family="Liberation Sans" font-size="21.90" fill="#1c1c1c" stroke="#1c1c1c" stroke-width="0.20" stroke-linejoin="round">0</text>
<text transform="translate(347.80 594.00) skewY(0.05) scale(1.0100 1)" x="0" y="0" font-family="Liberation Sans" font-size="21.90" fill="#1c1c1c" stroke="#1c1c1c" stroke-width="0.20" stroke-linejoin="round">0</text>
<text transform="translate(388.10 400.10) skewY(0.05) scale(1.0100 1)" x="0" y="0" font-family="Liberation Sans" font-size="21.90" fill="#1c1c1c" stroke="#1c1c1c" stroke-width="0.20" stroke-linejoin="round">0</text>
<text transform="translate(388.10 483.20) skewY(0.05) scale(1.0100 1)" x="0" y="0" font-family="Liberation Sans" font-size="21.90" fill="#1c1c1c" stroke="#1c1c1c" stroke-width="0.20" stroke-linejoin="round">0</text>
<text transform="translate(388.10 510.90) skewY(0.05) scale(1.0100 1)" x="0" y="0" font-family="Liberation Sans" font-size="21.90" fill="#1c1c1c" stroke="#1c1c1c" stroke-width="0.20" stroke-linejoin="round">0</text>
<text transform="translate(388.10 566.30) skewY(0.05) scale(1.0100 1)" x="0" y="0" font-family="Liberation Sans" font-size="21.90" fill="#1c1c1c" stroke="#1c1c1c" stroke-width="0.20" stroke-linejoin="round">0</text>
<text transform="translate(427.05 400.10) skewY(0.05) scale(1.0100 1)" x="0" y="0" font-family="Liberation Sans" font-size="21.90" fill="#1c1c1c" stroke="#1c1c1c" stroke-width="0.20" stroke-linejoin="round">0</text>
<text transform="translate(427.05 427.80) skewY(0.05) scale(1.0100 1)" x="0" y="0" font-family="Liberation Sans" font-size="21.90" fill="#1c1c1c" stroke="#1c1c1c" stroke-width="0.20" stroke-linejoin="round">0</text>
<text transform="translate(427.05 483.20) skewY(0.05) scale(1.0100 1)" x="0" y="0" font-family="Liberation Sans" font-size="21.90" fill="#1c1c1c" stroke="#1c1c1c" stroke-width="0.20" stroke-linejoin="round">0</text>
<text transform="translate(427.05 510.90) skewY(0.05) scale(1.0100 1)" x="0" y="0" font-family="Liberation Sans" font-size="21.90" fill="#1c1c1c" stroke="#1c1c1c" stroke-width="0.20" stroke-linejoin="round">0</text>
<text transform="translate(427.05 538.60) skewY(0.05) scale(1.0100 1)" x="0" y="0" font-family="Liberation Sans" font-size="21.90" fill="#1c1c1c" stroke="#1c1c1c" stroke-width="0.20" stroke-linejoin="round">0</text>
<text transform="translate(427.05 566.30) skewY(0.05) scale(1.0100 1)" x="0" y="0" font-family="Liberation Sans" font-size="21.90" fill="#1c1c1c" stroke="#1c1c1c" stroke-width="0.20" stroke-linejoin="round">0</text>
<text transform="translate(427.05 594.00) skewY(0.05) scale(1.0100 1)" x="0" y="0" font-family="Liberation Sans" font-size="21.90" fill="#1c1c1c" stroke="#1c1c1c" stroke-width="0.20" stroke-linejoin="round">0</text>
<text transform="translate(465.75 400.10) skewY(0.05) scale(1.0100 1)" x="0" y="0" font-family="Liberation Sans" font-size="21.90" fill="#1c1c1c" stroke="#1c1c1c" stroke-width="0.20" stroke-linejoin="round">0</text>
<text transform="translate(465.75 510.90) skewY(0.05) scale(1.0100 1)" x="0" y="0" font-family="Liberation Sans" font-size="21.90" fill="#1c1c1c" stroke="#1c1c1c" stroke-width="0.20" stroke-linejoin="round">0</text>
<text transform="translate(465.75 566.30) skewY(0.05) scale(1.0100 1)" x="0" y="0" font-family="Liberation Sans" font-size="21.90" fill="#1c1c1c" stroke="#1c1c1c" stroke-width="0.20" stroke-linejoin="round">0</text>
<text transform="translate(465.75 594.00) skewY(0.05) scale(1.0100 1)" x="0" y="0" font-family="Liberation Sans" font-size="21.90" fill="#1c1c1c" stroke="#1c1c1c" stroke-width="0.20" stroke-linejoin="round">0</text>
<text transform="translate(506.00 400.10) skewY(0.05) scale(1.0100 1)" x="0" y="0" font-family="Liberation Sans" font-size="21.90" fill="#1c1c1c" stroke="#1c1c1c" stroke-width="0.20" stroke-linejoin="round">0</text>
<text transform="translate(506.00 483.20) skewY(0.05) scale(1.0100 1)" x="0" y="0" font-family="Liberation Sans" font-size="21.90" fill="#1c1c1c" stroke="#1c1c1c" stroke-width="0.20" stroke-linejoin="round">0</text>
<text transform="translate(506.00 538.60) skewY(0.05) scale(1.0100 1)" x="0" y="0" font-family="Liberation Sans" font-size="21.90" fill="#1c1c1c" stroke="#1c1c1c" stroke-width="0.20" stroke-linejoin="round">0</text>
<text transform="translate(506.00 566.30) skewY(0.05) scale(1.0100 1)" x="0" y="0" font-family="Liberation Sans" font-size="21.90" fill="#1c1c1c" stroke="#1c1c1c" stroke-width="0.20" stroke-linejoin="round">0</text>
<text transform="translate(506.00 594.00) skewY(0.05) scale(1.0100 1)" x="0" y="0" font-family="Liberation Sans" font-size="21.90" fill="#1c1c1c" stroke="#1c1c1c" stroke-width="0.20" stroke-linejoin="round">0</text>
<text transform="translate(546.45 400.10) skewY(0.05) scale(1.0100 1)" x="0" y="0" font-family="Liberation Sans" font-size="21.90" fill="#1c1c1c" stroke="#1c1c1c" stroke-width="0.20" stroke-linejoin="round">0</text>
<text transform="translate(546.45 483.20) skewY(0.05) scale(1.0100 1)" x="0" y="0" font-family="Liberation Sans" font-size="21.90" fill="#1c1c1c" stroke="#1c1c1c" stroke-width="0.20" stroke-linejoin="round">0</text>
<text transform="translate(546.45 510.90) skewY(0.05) scale(1.0100 1)" x="0" y="0" font-family="Liberation Sans" font-size="21.90" fill="#1c1c1c" stroke="#1c1c1c" stroke-width="0.20" stroke-linejoin="round">0</text>
<text transform="translate(546.45 566.30) skewY(0.05) scale(1.0100 1)" x="0" y="0" font-family="Liberation Sans" font-size="21.90" fill="#1c1c1c" stroke="#1c1c1c" stroke-width="0.20" stroke-linejoin="round">0</text>
<text transform="translate(585.45 400.10) skewY(0.05) scale(1.0100 1)" x="0" y="0" font-family="Liberation Sans" font-size="21.90" fill="#1c1c1c" stroke="#1c1c1c" stroke-width="0.20" stroke-linejoin="round">0</text>
<text transform="translate(585.45 427.80) skewY(0.05) scale(1.0100 1)" x="0" y="0" font-family="Liberation Sans" font-size="21.90" fill="#1c1c1c" stroke="#1c1c1c" stroke-width="0.20" stroke-linejoin="round">0</text>
<text transform="translate(585.45 483.20) skewY(0.05) scale(1.0100 1)" x="0" y="0" font-family="Liberation Sans" font-size="21.90" fill="#1c1c1c" stroke="#1c1c1c" stroke-width="0.20" stroke-linejoin="round">0</text>
<text transform="translate(585.45 510.90) skewY(0.05) scale(1.0100 1)" x="0" y="0" font-family="Liberation Sans" font-size="21.90" fill="#1c1c1c" stroke="#1c1c1c" stroke-width="0.20" stroke-linejoin="round">0</text>
<text transform="translate(585.45 538.60) skewY(0.05) scale(1.0100 1)" x="0" y="0" font-family="Liberation Sans" font-size="21.90" fill="#1c1c1c" stroke="#1c1c1c" stroke-width="0.20" stroke-linejoin="round">0</text>
<text transform="translate(585.45 566.30) skewY(0.05) scale(1.0100 1)" x="0" y="0" font-family="Liberation Sans" font-size="21.90" fill="#1c1c1c" stroke="#1c1c1c" stroke-width="0.20" stroke-linejoin="round">0</text>
<text transform="translate(585.45 594.00) skewY(0.05) scale(1.0100 1)" x="0" y="0" font-family="Liberation Sans" font-size="21.90" fill="#1c1c1c" stroke="#1c1c1c" stroke-width="0.20" stroke-linejoin="round">0</text>
<text transform="translate(624.50 510.90) skewY(0.05) scale(1.0100 1)" x="0" y="0" font-family="Liberation Sans" font-size="21.90" fill="#1c1c1c" stroke="#1c1c1c" stroke-width="0.20" stroke-linejoin="round">0</text>
<text transform="translate(624.50 538.60) skewY(0.05) scale(1.0100 1)" x="0" y="0" font-family="Liberation Sans" font-size="21.90" fill="#1c1c1c" stroke="#1c1c1c" stroke-width="0.20" stroke-linejoin="round">0</text>
<text transform="translate(624.50 566.30) skewY(0.05) scale(1.0100 1)" x="0" y="0" font-family="Liberation Sans" font-size="21.90" fill="#1c1c1c" stroke="#1c1c1c" stroke-width="0.20" stroke-linejoin="round">0</text>
<text transform="translate(624.50 594.00) skewY(0.05) scale(1.0100 1)" x="0" y="0" font-family="Liberation Sans" font-size="21.90" fill="#1c1c1c" stroke="#1c1c1c" stroke-width="0.20" stroke-linejoin="round">0</text>
<text transform="translate(664.70 427.80) skewY(0.05) scale(1.0100 1)" x="0" y="0" font-family="Liberation Sans" font-size="21.90" fill="#1c1c1c" stroke="#1c1c1c" stroke-width="0.20" stroke-linejoin="round">0</text>
<text transform="translate(664.70 455.50) skewY(0.05) scale(1.0100 1)" x="0" y="0" font-family="Liberation Sans" font-size="21.90" fill="#1c1c1c" stroke="#1c1c1c" stroke-width="0.20" stroke-linejoin="round">0</text>
<text transform="translate(705.00 427.80) skewY(0.05) scale(1.0100 1)" x="0" y="0" font-family="Liberation Sans" font-size="21.90" fill="#1c1c1c" stroke="#1c1c1c" stroke-width="0.20" stroke-linejoin="round">0</text>
<text transform="translate(705.00 455.50) skewY(0.05) scale(1.0100 1)" x="0" y="0" font-family="Liberation Sans" font-size="21.90" fill="#1c1c1c" stroke="#1c1c1c" stroke-width="0.20" stroke-linejoin="round">0</text>
<text transform="translate(705.00 483.20) skewY(0.05) scale(1.0100 1)" x="0" y="0" font-family="Liberation Sans" font-size="21.90" fill="#1c1c1c" stroke="#1c1c1c" stroke-width="0.20" stroke-linejoin="round">0</text>
<text transform="translate(705.00 594.00) skewY(0.05) scale(1.0100 1)" x="0" y="0" font-family="Liberation Sans" font-size="21.90" fill="#1c1c1c" stroke="#1c1c1c" stroke-width="0.20" stroke-linejoin="round">0</text>
<text transform="translate(745.50 427.80) skewY(0.05) scale(1.0100 1)" x="0" y="0" font-family="Liberation Sans" font-size="21.90" fill="#1c1c1c" stroke="#1c1c1c" stroke-width="0.20" stroke-linejoin="round">0</text>
<text transform="translate(745.50 510.90) skewY(0.05) scale(1.0100 1)" x="0" y="0" font-family="Liberation Sans" font-size="21.90" fill="#1c1c1c" stroke="#1c1c1c" stroke-width="0.20" stroke-linejoin="round">0</text>
<text transform="translate(745.50 566.30) skewY(0.05) scale(1.0100 1)" x="0" y="0" font-family="Liberation Sans" font-size="21.90" fill="#1c1c1c" stroke="#1c1c1c" stroke-width="0.20" stroke-linejoin="round">0</text>
<text transform="translate(782.70 400.10) skewY(0.05) scale(1.0100 1)" x="0" y="0" font-family="Liberation Sans" font-size="21.90" fill="#1c1c1c" stroke="#1c1c1c" stroke-width="0.20" stroke-linejoin="round">0</text>
<text transform="translate(782.70 427.80) skewY(0.05) scale(1.0100 1)" x="0" y="0" font-family="Liberation Sans" font-size="21.90" fill="#1c1c1c" stroke="#1c1c1c" stroke-width="0.20" stroke-linejoin="round">0</text>
<text transform="translate(782.70 483.20) skewY(0.05) scale(1.0100 1)" x="0" y="0" font-family="Liberation Sans" font-size="21.90" fill="#1c1c1c" stroke="#1c1c1c" stroke-width="0.20" stroke-linejoin="round">0</text>
<text transform="translate(782.70 510.90) skewY(0.05) scale(1.0100 1)" x="0" y="0" font-family="Liberation Sans" font-size="21.90" fill="#1c1c1c" stroke="#1c1c1c" stroke-width="0.20" stroke-linejoin="round">0</text>
<text transform="translate(782.70 538.60) skewY(0.05) scale(1.0100 1)" x="0" y="0" font-family="Liberation Sans" font-size="21.90" fill="#1c1c1c" stroke="#1c1c1c" stroke-width="0.20" stroke-linejoin="round">0</text>
<text transform="translate(782.70 566.30) skewY(0.05) scale(1.0100 1)" x="0" y="0" font-family="Liberation Sans" font-size="21.90" fill="#1c1c1c" stroke="#1c1c1c" stroke-width="0.20" stroke-linejoin="round">0</text>
<text transform="translate(782.70 594.00) skewY(0.05) scale(1.0100 1)" x="0" y="0" font-family="Liberation Sans" font-size="21.90" fill="#1c1c1c" stroke="#1c1c1c" stroke-width="0.20" stroke-linejoin="round">0</text>
<text transform="translate(45.12 655.70) skewY(0.05) scale(0.9371 1)" x="0 14.54 21.15 33.05 44.95 53.33" y="0" font-family="Liberation Serif" font-size="23.80" font-style="italic" fill="#050505" stroke="#050505" stroke-width="0.65" stroke-linejoin="round">Figure</text>
<text transform="translate(112.21 655.70) skewY(0.05) scale(0.9816 1)" x="0 11.9 19.83 31.73" y="0" font-family="Liberation Serif" font-size="23.80" font-style="italic" fill="#050505" stroke="#050505" stroke-width="0.65" stroke-linejoin="round">2-6.</text>
<text transform="translate(157.49 655.70) skewY(0.05) scale(0.9793 1)" x="0 13.24 25.14 35.7 44.08" y="0" font-family="Liberation Serif" font-size="23.80" font-style="italic" fill="#050505" stroke="#050505" stroke-width="0.65" stroke-linejoin="round">There</text>
<text transform="translate(216.83 655.70) skewY(0.05) scale(0.9653 1)" x="0 11.9 20.28" y="0" font-family="Liberation Serif" font-size="23.80" font-style="italic" fill="#050505" stroke="#050505" stroke-width="0.65" stroke-linejoin="round">are</text>
<text transform="translate(252.95 655.70) skewY(0.05) scale(1.0226 1)" x="0 17.19 29.09 35.7 42.31 48.92 60.82 67.44" y="0" font-family="Liberation Serif" font-size="23.80" font-style="italic" fill="#050505" stroke="#050505" stroke-width="0.65" stroke-linejoin="round">multiple</text>
<text transform="translate(339.15 655.70) skewY(0.05) scale(1.0281 1)" x="0 17.19 27.75 34.36 46.26 58.16 70.06" y="0" font-family="Liberation Serif" font-size="23.80" font-style="italic" fill="#050505" stroke="#050505" stroke-width="0.65" stroke-linejoin="round">methods</text>
<text transform="translate(427.52 655.70) skewY(0.05) scale(0.9955 1)" x="0 11.9" y="0" font-family="Liberation Serif" font-size="23.80" font-style="italic" fill="#050505" stroke="#050505" stroke-width="0.65" stroke-linejoin="round">of</text>
<text transform="translate(451.35 655.70) skewY(0.05) scale(1.0378 1)" x="0 6.61 18.51 29.08 39.64 51.54 58.15 67.41 79.31 85.93 92.54 104.44" y="0" font-family="Liberation Serif" font-size="23.80" font-style="italic" fill="#050505" stroke="#050505" stroke-width="0.65" stroke-linejoin="round">tokenization</text>
<text transform="translate(578.76 655.70) skewY(0.05) scale(1.0214 1)" x="0 6.61 18.51 30.41" y="0" font-family="Liberation Serif" font-size="23.80" font-style="italic" fill="#050505" stroke="#050505" stroke-width="0.65" stroke-linejoin="round">that</text>
<text transform="translate(623.95 655.70) skewY(0.05) scale(0.9902 1)" x="0 11.9 20.28 30.84 42.74" y="0" font-family="Liberation Serif" font-size="23.80" font-style="italic" fill="#050505" stroke="#050505" stroke-width="0.65" stroke-linejoin="round">break</text>
<text transform="translate(684.39 655.70) skewY(0.05) scale(1.0452 1)" x="0 11.9 23.8 39.67" y="0" font-family="Liberation Serif" font-size="23.80" font-style="italic" fill="#050505" stroke="#050505" stroke-width="0.65" stroke-linejoin="round">down</text>
<text transform="translate(743.59 655.70) skewY(0.05) scale(0.9877 1)" x="0 6.61 18.51" y="0" font-family="Liberation Serif" font-size="23.80" font-style="italic" fill="#050505" stroke="#050505" stroke-width="0.65" stroke-linejoin="round">the</text>
<text transform="translate(779.98 655.70) skewY(0.05) scale(1.0049 1)" x="0 6.61 17.18 27.74" y="0" font-family="Liberation Serif" font-size="23.80" font-style="italic" fill="#050505" stroke="#050505" stroke-width="0.65" stroke-linejoin="round">text</text>
<text transform="translate(821.22 655.70) skewY(0.05) scale(1.0800 1)" x="0 6.61" y="0" font-family="Liberation Serif" font-size="23.80" font-style="italic" fill="#050505" stroke="#050505" stroke-width="0.65" stroke-linejoin="round">to</text>
<text transform="translate(45.01 685.50) skewY(0.05) scale(0.9917 1)" x="0 11.9 18.51 25.12 31.74 42.3 50.68 61.24 73.14" y="0" font-family="Liberation Serif" font-size="23.80" font-style="italic" fill="#050505" stroke="#050505" stroke-width="0.65" stroke-linejoin="round">different</text>
<text transform="translate(132.13 685.50) skewY(0.05) scale(0.9507 1)" x="0 9.26 15.87 25.14 35.7" y="0" font-family="Liberation Serif" font-size="23.80" font-style="italic" fill="#050505" stroke="#050505" stroke-width="0.65" stroke-linejoin="round">sizes</text>
<text transform="translate(181.81 685.50) skewY(0.05) scale(1.0238 1)" x="0 11.9" y="0" font-family="Liberation Serif" font-size="23.80" font-style="italic" fill="#050505" stroke="#050505" stroke-width="0.65" stroke-linejoin="round">of</text>
<text transform="translate(205.29 685.50) skewY(0.05) scale(1.0081 1)" x="0 10.56 22.46 39.65 51.55 63.45 75.35 85.91 97.81 104.43" y="0" font-family="Liberation Serif" font-size="23.80" font-style="italic" fill="#050505" stroke="#050505" stroke-width="0.65" stroke-linejoin="round">components</text>
<text transform="translate(328.19 685.50) skewY(0.05) scale(0.9971 1)" x="0 7.93 23.8 35.7 44.08 55.98 65.24" y="0" font-family="Liberation Serif" font-size="23.80" font-style="italic" fill="#050505" stroke="#050505" stroke-width="0.65" stroke-linejoin="round">(words,</text>
<text transform="translate(405.43 685.50) skewY(0.05) scale(0.9959 1)" x="0 9.26 21.16 33.06 48.94 60.84 69.22 81.12 90.38" y="0" font-family="Liberation Serif" font-size="23.80" font-style="italic" fill="#050505" stroke="#050505" stroke-width="0.65" stroke-linejoin="round">subwords,</text>
<text transform="translate(507.70 685.50) skewY(0.05) scale(0.9703 1)" x="0 10.56 22.46 34.36 43.63 55.53 66.09 72.7 83.27 92.53 101.79" y="0" font-family="Liberation Serif" font-size="23.80" font-style="italic" fill="#050505" stroke="#050505" stroke-width="0.65" stroke-linejoin="round">characters,</text>
<text transform="translate(618.91 685.50) skewY(0.05) scale(1.0168 1)" x="0 11.9 23.8" y="0" font-family="Liberation Serif" font-size="23.80" font-style="italic" fill="#050505" stroke="#050505" stroke-width="0.65" stroke-linejoin="round">and</text>
<text transform="translate(662.65 685.50) skewY(0.05) scale(0.9869 1)" x="0 11.9 22.46 29.08 39.64 48.9 56.83" y="0" font-family="Liberation Serif" font-size="23.80" font-style="italic" fill="#050505" stroke="#050505" stroke-width="0.65" stroke-linejoin="round">bytes).</text>
</svg>
</body></html>
